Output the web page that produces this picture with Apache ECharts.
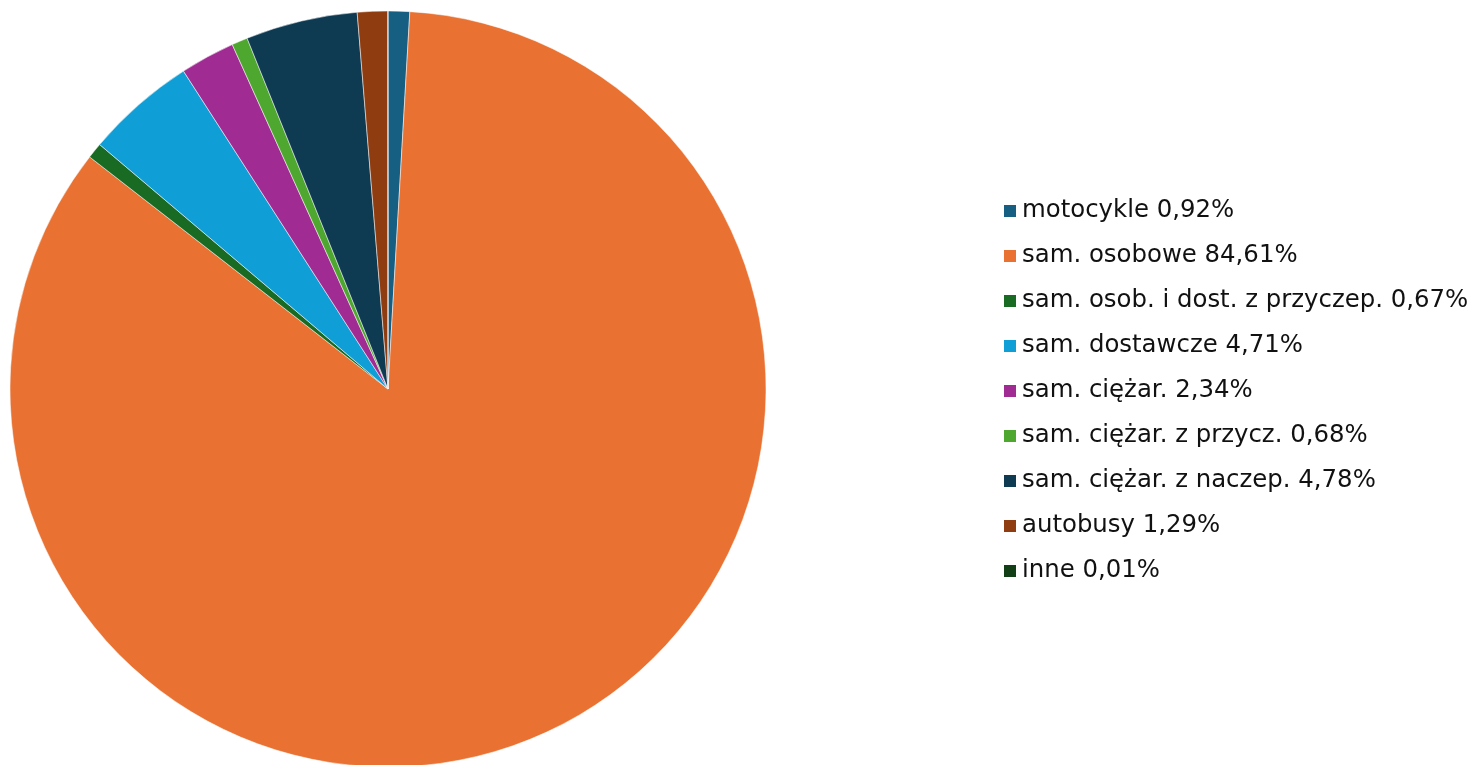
<!DOCTYPE html>
<html lang="pl">
  <head>
    <meta charset="UTF-8" />
    <title>Struktura pojazdów</title>
    <script src="https://cdn.jsdelivr.net/npm/echarts@6/dist/echarts.min.js"></script>
    <style>
      html, body { margin: 0; padding: 0; background: #fff; }
    </style>
  </head>
  <body>
    <div id="main" style="width: 1474px; height: 765px;"></div>
    <script type="text/javascript">
      var chart = echarts.init(document.getElementById('main'))

      // kategorie i udziały procentowe
      var categories = [
        'motocykle',
        'sam. osobowe',
        'sam. osob. i dost. z przyczep.',
        'sam. dostawcze',
        'sam. ciężar.',
        'sam. ciężar. z przycz.',
        'sam. ciężar. z naczep.',
        'autobusy',
        'inne'
      ]
      var shares = [0.92, 84.61, 0.67, 4.71, 2.34, 0.68, 4.78, 1.29, 0.01]
      var colors = [
        '#175e83', '#e97132', '#196b24', '#0f9ed5', '#a02b93',
        '#4ea72e', '#0e3a52', '#8f3c10', '#133f17'
      ]

      var pieData = categories.map(function (name, i) {
        return { name: name, value: shares[i], itemStyle: { color: colors[i] } }
      })

      var option = {
        animation: false,
        legend: {
          orient: 'vertical',
          left: 1002,
          top: 199,
          padding: 0,
          itemWidth: 14,
          itemHeight: 14,
          itemGap: 21,
          icon: 'rect',
          textStyle: {
            fontFamily: 'DejaVu Sans',
            fontSize: 24.4,
            lineHeight: 24,
            color: '#111'
          },
          formatter: function (name) {
            var i = categories.indexOf(name)
            return name + ' ' + shares[i].toFixed(2).replace('.', ',') + '%'
          }
        },
        series: [
          {
            type: 'pie',
            center: [388, 389],
            radius: 378,
            startAngle: 90,
            clockwise: true,
            label: { show: false },
            labelLine: { show: false },
            itemStyle: { borderColor: '#fff', borderWidth: 0.5 },
            data: pieData
          }
        ]
      }

      chart.setOption(option)
    </script>
  </body>
</html>
